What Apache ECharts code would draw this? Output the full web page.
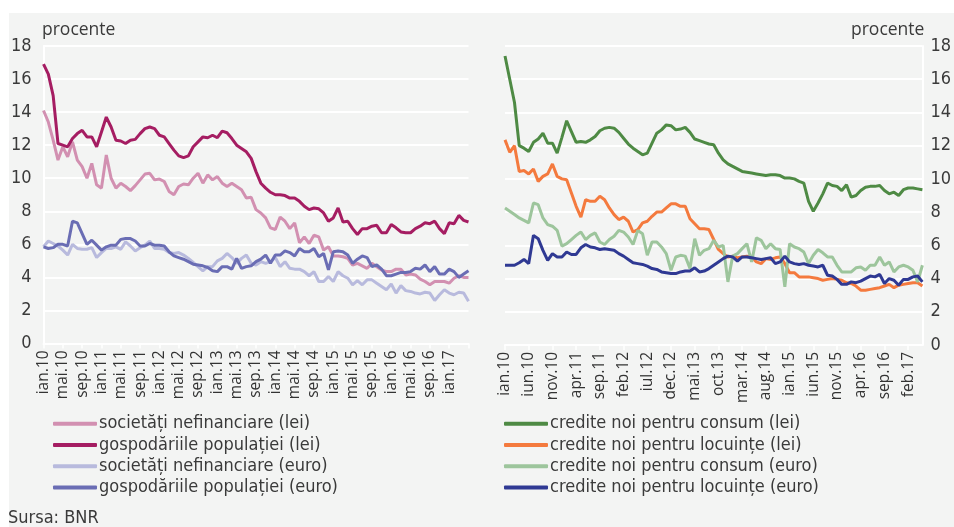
<!DOCTYPE html>
<html>
<head>
<meta charset="utf-8">
<script src="https://cdn.jsdelivr.net/npm/echarts@6/dist/echarts.min.js"></script>
<style>
  html, body { margin: 0; padding: 0; background: #fff; }
  #chart { width: 954px; height: 527px; }
</style>
</head>
<body>
<div id="chart"></div>
<script>
// luni ian.10 - mai.17
var monthNames = ['ian', 'feb', 'mar', 'apr', 'mai', 'iun', 'iul', 'aug', 'sep', 'oct', 'nov', 'dec']
var months = []
for (var y = 10; y <= 17; y++) {
  for (var m = 0; m < 12; m++) {
    if (y === 17 && m > 4) break
    months.push(monthNames[m] + '.' + y)
  }
}

// panoul stang
var snfLei = [14.1, 13.4, 12.3, 11.1, 11.9, 11.3, 12.2, 11.1, 10.7, 10.0, 10.9, 9.6, 9.4, 11.4, 10.0, 9.4, 9.7, 9.5, 9.25, 9.55,
  9.9, 10.25, 10.3, 9.9, 9.95, 9.8, 9.2, 9.0, 9.5, 9.65, 9.6, 10.0, 10.3, 9.7, 10.2, 9.9, 10.1, 9.7, 9.5, 9.7,
  9.5, 9.3, 8.8, 8.85, 8.1, 7.9, 7.6, 7.0, 6.9, 7.65, 7.4, 6.95, 7.3, 6.1, 6.45, 6.05, 6.55, 6.45, 5.65, 5.85,
  5.3, 5.3, 5.25, 5.15, 4.75, 4.85, 4.7, 4.55, 4.85, 4.65, 4.45, 4.35, 4.35, 4.5, 4.5, 4.15, 4.2, 4.15, 3.9, 3.75,
  3.55, 3.75, 3.75, 3.75, 3.65, 3.95, 4.1, 4.0, 4.0]
var gpLei = [16.9, 16.3, 15.0, 12.1, 12.0, 11.9, 12.4, 12.7, 12.9, 12.5, 12.5, 11.9, 12.8, 13.7, 13.1, 12.3, 12.25, 12.1, 12.3, 12.35,
  12.7, 13.0, 13.1, 13.0, 12.6, 12.5, 12.1, 11.7, 11.35, 11.25, 11.35, 11.9, 12.2, 12.5, 12.45, 12.6, 12.45, 12.85, 12.75, 12.4,
  12.0, 11.8, 11.6, 11.2, 10.4, 9.7, 9.4, 9.15, 9.0, 9.0, 8.95, 8.8, 8.8, 8.6, 8.3, 8.1, 8.2, 8.15, 7.9, 7.4,
  7.6, 8.2, 7.35, 7.4, 6.95, 6.6, 6.95, 6.95, 7.1, 7.15, 6.7, 6.7, 7.2, 7.0, 6.75, 6.7, 6.7, 6.95, 7.1, 7.3,
  7.25, 7.4, 6.95, 6.65, 7.3, 7.25, 7.75, 7.45, 7.35]
var snfEur = [5.85, 6.2, 6.05, 5.9, 5.65, 5.35, 6.0, 5.75, 5.7, 5.7, 5.8, 5.2, 5.5, 5.75, 5.75, 5.85, 5.7, 6.15, 5.9, 5.6,
  5.8, 5.95, 6.2, 5.75, 5.75, 5.7, 5.5, 5.45, 5.5, 5.35, 5.15, 4.9, 4.65, 4.4, 4.65, 4.65, 5.0, 5.15, 5.45, 5.2,
  4.85, 5.15, 5.35, 4.85, 4.75, 4.95, 4.85, 4.95, 5.2, 4.65, 4.95, 4.55, 4.5, 4.5, 4.35, 4.1, 4.35, 3.75, 3.75, 4.05,
  3.75, 4.35, 4.1, 3.95, 3.55, 3.8, 3.55, 3.85, 3.85, 3.65, 3.45, 3.25, 3.6, 3.05, 3.5, 3.2, 3.15, 3.05, 3.0, 3.1,
  3.05, 2.6, 2.95, 3.25, 3.05, 2.95, 3.1, 3.05, 2.55]
var gpEur = [5.85, 5.75, 5.8, 6.0, 6.0, 5.9, 7.4, 7.3, 6.65, 6.0, 6.25, 5.95, 5.65, 5.85, 5.95, 5.95, 6.3, 6.35, 6.35, 6.2,
  5.9, 5.9, 6.05, 5.95, 5.95, 5.9, 5.55, 5.3, 5.2, 5.1, 4.95, 4.8, 4.75, 4.7, 4.6, 4.4, 4.35, 4.65, 4.65, 4.5,
  5.15, 4.55, 4.65, 4.7, 4.95, 5.1, 5.35, 4.85, 5.35, 5.35, 5.6, 5.5, 5.3, 5.75, 5.55, 5.55, 5.75, 5.25, 5.45, 4.45,
  5.55, 5.6, 5.55, 5.35, 4.85, 5.1, 5.3, 5.2, 4.65, 4.75, 4.5, 4.1, 4.1, 4.2, 4.3, 4.3, 4.35, 4.55, 4.5, 4.75,
  4.35, 4.65, 4.2, 4.2, 4.5, 4.35, 4.0, 4.2, 4.4]

// panoul drept
var consumLei = [17.4, 16.0, 14.6, 12.0, 11.85, 11.65, 12.2, 12.4, 12.75, 12.15, 12.15, 11.55, 12.5, 13.5, 12.85, 12.2, 12.25, 12.2, 12.35, 12.55,
  12.9, 13.05, 13.1, 13.05, 12.8, 12.45, 12.1, 11.85, 11.65, 11.45, 11.55, 12.15, 12.75, 12.95, 13.25, 13.2, 12.95, 13.0, 13.1, 12.8,
  12.4, 12.3, 12.2, 12.1, 12.05, 11.55, 11.15, 10.9, 10.75, 10.6, 10.45, 10.4, 10.35, 10.3, 10.25, 10.2, 10.25, 10.25, 10.2, 10.05,
  10.05, 10.0, 9.85, 9.75, 8.65, 8.05, 8.55, 9.1, 9.75, 9.6, 9.55, 9.3, 9.65, 8.9, 9.0, 9.3, 9.5, 9.55, 9.55, 9.6,
  9.3, 9.1, 9.2, 9.0, 9.35, 9.45, 9.45, 9.4, 9.35]
var locuinteLei = [12.35, 11.6, 12.0, 10.45, 10.5, 10.3, 10.6, 9.85, 10.15, 10.3, 10.9, 10.15, 10.0, 9.95, 9.15, 8.35, 7.7, 8.75, 8.65, 8.65,
  8.95, 8.75, 8.25, 7.85, 7.55, 7.7, 7.45, 6.8, 6.95, 7.35, 7.45, 7.75, 8.0, 8.0, 8.25, 8.5, 8.5, 8.35, 8.35, 7.6,
  7.3, 7.0, 7.0, 6.95, 6.35, 5.75, 5.5, 5.3, 5.35, 5.25, 5.3, 5.35, 5.3, 5.0, 4.9, 5.2, 5.15, 5.25, 5.3, 4.9,
  4.35, 4.35, 4.1, 4.1, 4.1, 4.05, 4.0, 3.9, 3.95, 4.0, 3.95, 3.9, 3.75, 3.7, 3.55, 3.3, 3.3, 3.35, 3.4, 3.45,
  3.55, 3.65, 3.45, 3.6, 3.65, 3.7, 3.75, 3.75, 3.55]
var consumEur = [8.25, 8.05, 7.85, 7.65, 7.5, 7.35, 8.55, 8.45, 7.65, 7.25, 7.15, 6.9, 5.95, 6.1, 6.35, 6.6, 6.8, 6.35, 6.6, 6.75,
  6.2, 6.05, 6.35, 6.55, 6.9, 6.8, 6.5, 6.05, 6.9, 6.7, 5.4, 6.2, 6.2, 5.9, 5.5, 4.5, 5.3, 5.4, 5.35, 4.6,
  6.4, 5.4, 5.7, 5.8, 6.3, 5.9, 6.0, 3.8, 5.35, 5.5, 5.8, 6.1, 5.0, 6.45, 6.3, 5.8, 6.1, 5.8, 5.75, 3.5,
  6.1, 5.9, 5.8, 5.6, 4.9, 5.4, 5.75, 5.55, 5.3, 5.3, 4.8, 4.4, 4.4, 4.4, 4.65, 4.7, 4.5, 4.8, 4.8, 5.3,
  4.8, 5.0, 4.4, 4.7, 4.8, 4.7, 4.5, 3.8, 4.8]
var locuinteEur = [4.8, 4.8, 4.8, 4.95, 5.15, 4.9, 6.6, 6.4, 5.7, 5.1, 5.5, 5.3, 5.3, 5.6, 5.45, 5.45, 5.85, 6.05, 5.9, 5.85,
  5.75, 5.8, 5.75, 5.7, 5.5, 5.35, 5.15, 4.95, 4.9, 4.85, 4.75, 4.6, 4.55, 4.4, 4.35, 4.3, 4.3, 4.4, 4.45, 4.45,
  4.65, 4.4, 4.45, 4.6, 4.8, 5.0, 5.2, 5.35, 5.3, 5.05, 5.3, 5.3, 5.25, 5.2, 5.15, 5.2, 5.25, 4.9, 5.0, 5.35,
  5.0, 4.9, 4.85, 4.9, 4.8, 4.75, 4.7, 4.8, 4.2, 4.15, 3.95, 3.65, 3.65, 3.8, 3.75, 3.85, 4.0, 4.15, 4.1, 4.25,
  3.7, 4.0, 3.9, 3.6, 3.95, 3.95, 4.1, 4.15, 3.8]

var namesLeft = ['societăți nefinanciare (lei)', 'gospodăriile populației (lei)', 'societăți nefinanciare (euro)', 'gospodăriile populației (euro)']
var namesRight = ['credite noi pentru consum (lei)', 'credite noi pentru locuințe (lei)', 'credite noi pentru consum (euro)', 'credite noi pentru locuințe (euro)']
var colorsLeft = ['#d290b1', '#a51d62', '#b8badd', '#6a6db4']
var colorsRight = ['#4e8a44', '#f47a3e', '#9dc59c', '#2f3993']

var narrow = '"DejaVu Sans Condensed", sans-serif'
var textColor = '#3a3a3a'

var chart = echarts.init(document.getElementById('chart'))

function xAxis (gridIndex, step, last) {
  return {
    type: 'category',
    gridIndex: gridIndex,
    data: months,
    boundaryGap: false,
    axisLine: { lineStyle: { color: '#fff', width: 2 } },
    axisTick: {
      show: true,
      length: 5,
      lineStyle: { color: '#fff', width: 1.5 },
      interval: function (i) { return i % step === 0 }
    },
    axisLabel: {
      rotate: 90,
      fontFamily: '"Open Sans", sans-serif',
      fontSize: 15.5,
      color: '#333',
      margin: 7,
      interval: function (i) { return i % step === 0 && i <= last }
    },
    splitLine: { show: false }
  }
}

function yAxis (gridIndex, pos) {
  return {
    type: 'value',
    gridIndex: gridIndex,
    position: pos,
    min: 0,
    max: 18,
    interval: 2,
    axisLine: { show: true, lineStyle: { color: '#fff', width: 2 } },
    axisTick: { show: false },
    axisLabel: {
      fontFamily: narrow,
      fontSize: 18,
      color: textColor,
      margin: pos === 'left' ? 12 : 8
    },
    splitLine: { lineStyle: { color: '#fff', width: 2 } }
  }
}

function lineSeries (name, data, color, idx) {
  return {
    name: name,
    type: 'line',
    xAxisIndex: idx,
    yAxisIndex: idx,
    data: data,
    symbol: 'none',
    lineStyle: { color: color, width: 3 },
    itemStyle: { color: color },
    emphasis: { disabled: true },
    animation: false
  }
}

function legend (names, left) {
  return {
    data: names,
    orient: 'vertical',
    left: left,
    top: 408,
    icon: 'roundRect',
    itemWidth: 44,
    itemHeight: 4,
    itemGap: 0,
    selectedMode: false,
    textStyle: {
      fontFamily: narrow,
      fontSize: 18,
      color: textColor,
      lineHeight: 21.3,
      padding: [0, 0, 0, -3]
    }
  }
}

var leftData = [snfLei, gpLei, snfEur, gpEur]
var rightData = [consumLei, locuinteLei, consumEur, locuinteEur]
var series = []
leftData.forEach(function (d, i) { series.push(lineSeries(namesLeft[i], d, colorsLeft[i], 0)) })
rightData.forEach(function (d, i) { series.push(lineSeries(namesRight[i], d, colorsRight[i], 1)) })

chart.setOption({
  animation: false,
  graphic: [
    { type: 'rect', left: 9, top: 13, shape: { width: 945, height: 514 }, style: { fill: '#f3f4f3' }, z: -10 },
    { type: 'text', left: 42, top: 21, style: { text: 'procente', fontFamily: '"Open Sans", sans-serif', fontSize: 17.5, fill: textColor } },
    { type: 'text', left: 851, top: 21, style: { text: 'procente', fontFamily: '"Open Sans", sans-serif', fontSize: 17.5, fill: textColor } },
    { type: 'text', left: 8, top: 509, style: { text: 'Sursa: BNR', fontFamily: narrow, fontSize: 18, fill: textColor } }
  ],
  grid: [
    { left: 43.5, top: 46, width: 425, height: 297.5 },
    { left: 505, top: 46, width: 422, height: 299 }
  ],
  xAxis: [xAxis(0, 4, 84), xAxis(1, 5, 85)],
  yAxis: [yAxis(0, 'left'), yAxis(1, 'right')],
  legend: [legend(namesLeft, 48), legend(namesRight, 499)],
  series: series
})
</script>
</body>
</html>
